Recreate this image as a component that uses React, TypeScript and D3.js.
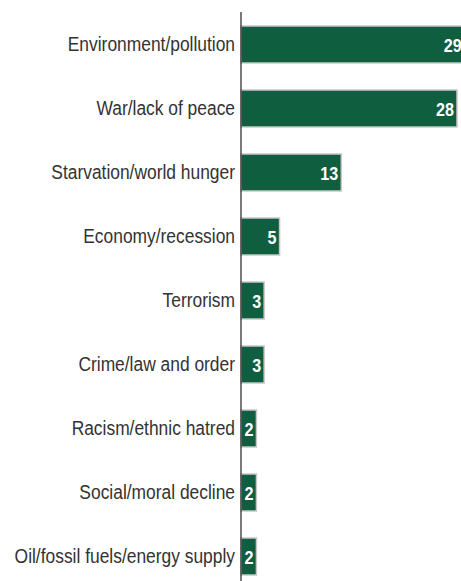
import React from "react";
import * as d3 from "d3";

const categories = [
  "Environment/pollution",
  "War/lack of peace",
  "Starvation/world hunger",
  "Economy/recession",
  "Terrorism",
  "Crime/law and order",
  "Racism/ethnic hatred",
  "Social/moral decline",
  "Oil/fossil fuels/energy supply",
];
const values = [29, 28, 13, 5, 3, 3, 2, 2, 2];

const W = 461;
const H = 581;
const axisX = 241;
const FONT = "'Liberation Sans Narrow', 'Arial Narrow', 'Liberation Sans', Arial, sans-serif";

export default function App() {
  const x = d3.scaleLinear().domain([0, 28]).range([axisX, 457]);
  const y = d3
    .scaleBand<string>()
    .domain(categories)
    .range([12.5, 12.5 + 64 * categories.length])
    .paddingInner(27 / 64)
    .paddingOuter(27 / 128);

  return (
    <svg
      width={W}
      height={H}
      style={{ position: "absolute", left: 0, top: 0, background: "#fff" }}
    >
      {categories.map((c, i) => {
        const yy = y(c)!;
        const bw = y.bandwidth();
        const x1 = x(values[i]);
        const cy = yy + bw / 2;
        return (
          <g key={c}>
            <rect
              x={axisX}
              y={yy}
              width={x1 - axisX}
              height={bw}
              fill="#0f5e40"
              stroke="#c8c8c8"
              strokeWidth={1.5}
            />
            <text
              transform={`translate(${axisX - 6},${cy}) scale(0.87,1)`}
              textAnchor="end"
              dominantBaseline="central"
              fontFamily={FONT}
              fontSize={20}
              fill="#333"
            >
              {c}
            </text>
            <text
              transform={`translate(${x1 - 3},${cy + 1}) scale(0.85,1)`}
              textAnchor="end"
              dominantBaseline="central"
              fontFamily={FONT}
              fontSize={19}
              fontWeight="bold"
              fill="#fff"
            >
              {values[i]}
            </text>
          </g>
        );
      })}
      <line x1={axisX} x2={axisX} y1={12} y2={H} stroke="#222" strokeWidth={1.2} />
    </svg>
  );
}
